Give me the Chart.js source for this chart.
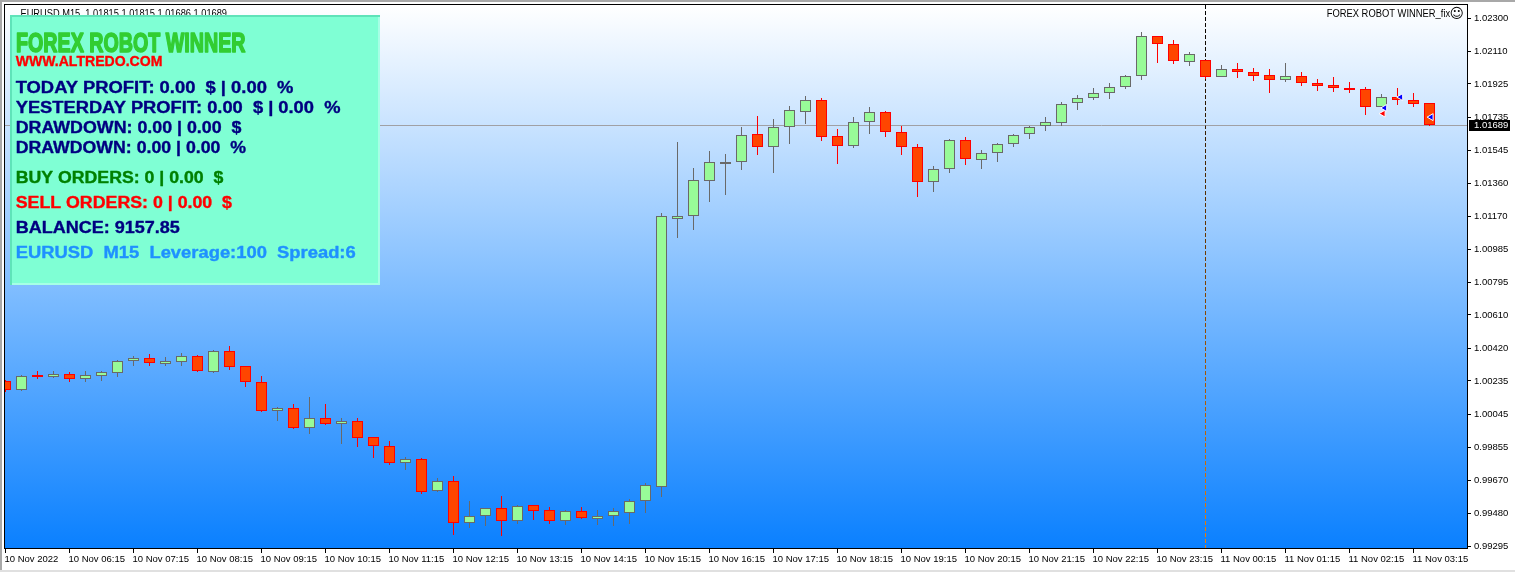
<!DOCTYPE html>
<html><head><meta charset="utf-8">
<script src="https://cdn.jsdelivr.net/npm/chart.js@4"></script>
<style>html,body{margin:0;padding:0;background:#fff;overflow:hidden}canvas{position:absolute;left:0;top:0;display:block}</style>
</head><body><canvas id="c" width="1515" height="572"></canvas>
<script>
const opens=[1.00233,1.00185,1.00269,1.00259,1.00274,1.00248,1.00265,1.00282,1.00350,1.00364,1.00333,1.00344,1.00375,1.00288,1.00404,1.00318,1.00227,1.00066,1.00079,0.99969,1.00022,0.99992,1.00005,0.99914,0.99863,0.99770,0.99789,0.99610,0.99664,0.99428,0.99468,0.99510,0.99440,0.99527,0.99499,0.99440,0.99493,0.99451,0.99468,0.99485,0.99553,0.99633,1.01158,1.01171,1.01370,1.01477,1.01479,1.01638,1.01564,1.01678,1.01766,1.01831,1.01627,1.01570,1.01707,1.01763,1.01650,1.01564,1.01365,1.01439,1.01604,1.01490,1.01530,1.01581,1.01638,1.01683,1.01701,1.01814,1.01843,1.01871,1.01905,1.01968,1.02196,1.02150,1.02048,1.02059,1.01963,1.02008,1.01991,1.01974,1.01949,1.01968,1.01928,1.01917,1.01900,1.01894,1.01795,1.01849,1.01831,1.01815];
const highs=[1.00240,1.00269,1.00291,1.00291,1.00286,1.00291,1.00291,1.00354,1.00377,1.00388,1.00369,1.00392,1.00383,1.00411,1.00434,1.00320,1.00263,1.00087,1.00104,1.00144,1.00104,1.00022,1.00022,0.99914,0.99891,0.99804,0.99796,0.99681,0.99694,0.99550,0.99510,0.99578,0.99527,0.99527,0.99516,0.99499,0.99516,0.99499,0.99514,0.99561,0.99652,1.01189,1.01595,1.01446,1.01543,1.01526,1.01680,1.01742,1.01725,1.01799,1.01856,1.01843,1.01667,1.01736,1.01791,1.01769,1.01683,1.01581,1.01458,1.01612,1.01620,1.01547,1.01587,1.01638,1.01683,1.01735,1.01820,1.01860,1.01900,1.01928,1.01974,1.02219,1.02196,1.02173,1.02105,1.02059,1.02031,1.02044,1.02014,1.02008,1.02044,1.01991,1.01951,1.01963,1.01936,1.01906,1.01866,1.01900,1.01871,1.01815];
const lows=[1.00174,1.00178,1.00248,1.00253,1.00231,1.00231,1.00235,1.00259,1.00320,1.00320,1.00320,1.00320,1.00288,1.00282,1.00299,1.00200,1.00060,1.00009,0.99963,0.99935,0.99986,0.99878,0.99861,0.99798,0.99758,0.99730,0.99593,0.99605,0.99360,0.99400,0.99411,0.99354,0.99422,0.99445,0.99422,0.99417,0.99448,0.99417,0.99411,0.99422,0.99485,0.99576,1.01049,1.01095,1.01254,1.01292,1.01435,1.01522,1.01420,1.01585,1.01698,1.01602,1.01471,1.01562,1.01642,1.01625,1.01522,1.01283,1.01311,1.01420,1.01465,1.01443,1.01482,1.01568,1.01613,1.01659,1.01683,1.01778,1.01835,1.01841,1.01894,1.01949,1.02046,1.02040,1.02029,1.01951,1.01963,1.01960,1.01943,1.01875,1.01938,1.01915,1.01886,1.01881,1.01875,1.01750,1.01795,1.01807,1.01795,1.01686];
const closes=[1.00185,1.00261,1.00259,1.00274,1.00248,1.00267,1.00284,1.00347,1.00364,1.00339,1.00347,1.00375,1.00293,1.00404,1.00316,1.00231,1.00066,1.00079,0.99969,1.00022,0.99992,1.00005,0.99912,0.99866,0.99770,0.99789,0.99605,0.99664,0.99428,0.99468,0.99510,0.99440,0.99522,0.99496,0.99440,0.99493,0.99457,0.99468,0.99493,0.99550,0.99641,1.01171,1.01171,1.01376,1.01479,1.01483,1.01633,1.01564,1.01678,1.01774,1.01831,1.01621,1.01570,1.01707,1.01763,1.01650,1.01564,1.01365,1.01439,1.01604,1.01496,1.01530,1.01581,1.01633,1.01678,1.01707,1.01809,1.01843,1.01871,1.01905,1.01968,1.02196,1.02150,1.02054,1.02093,1.01963,1.02008,1.01990,1.01972,1.01949,1.01968,1.01932,1.01915,1.01900,1.01892,1.01795,1.01849,1.01835,1.01812,1.01689];
const timeLabels=["10 Nov 2022","10 Nov 06:15","10 Nov 07:15","10 Nov 08:15","10 Nov 09:15","10 Nov 10:15","10 Nov 11:15","10 Nov 12:15","10 Nov 13:15","10 Nov 14:15","10 Nov 15:15","10 Nov 16:15","10 Nov 17:15","10 Nov 18:15","10 Nov 19:15","10 Nov 20:15","10 Nov 21:15","10 Nov 22:15","10 Nov 23:15","11 Nov 00:15","11 Nov 01:15","11 Nov 02:15","11 Nov 03:15"];
const priceLabels=["1.02300","1.02110","1.01925","1.01735","1.01545","1.01360","1.01170","1.00985","1.00795","1.00610","1.00420","1.00235","1.00045","0.99855","0.99670","0.99480","0.99295"];
const blueArrowBars=[86.2,87.2,89.1];
const blueArrowPrices=[1.01788,1.01850,1.01736];
const redArrowBars=[86.1];
const redArrowPrices=[1.01756];
const currentPrice=1.01689;
const crosshairBar=75;
const chartTitle="EURUSD,M15  1.01815 1.01815 1.01686 1.01689";
const indicatorName="FOREX ROBOT WINNER_fix";
const panelTexts=["WWW.ALTREDO.COM","TODAY PROFIT: 0.00  $ | 0.00  %","YESTERDAY PROFIT: 0.00  $ | 0.00  %","DRAWDOWN: 0.00 | 0.00  $","DRAWDOWN: 0.00 | 0.00  %","BUY ORDERS: 0 | 0.00  $","SELL ORDERS: 0 | 0.00  $","BALANCE: 9157.85","EURUSD  M15  Leverage:100  Spread:6"];
const panelTitle="FOREX ROBOT WINNER";

const UP_FILL='#98fb98',UP_LINE='#696969',DN_FILL='#ff4500',DN_LINE='#ff0000';
const isUp=i=>closes[i]>=opens[i];
const idx=opens.map((_,i)=>i);
const wickColors=idx.map(i=>isUp(i)?UP_LINE:DN_LINE);
const fillColors=idx.map(i=>isUp(i)?UP_FILL:DN_FILL);
const lineColors=idx.map(i=>isUp(i)?UP_LINE:DN_LINE);
const SANS='"Liberation Sans"';
const axisFont={family:SANS,size:9.5};
const noPad=s=>{s.paddingTop=s.paddingBottom=s.paddingLeft=s.paddingRight=0;};

function fitText(ctx,t,x,y,w,font,color,stroke){
  ctx.save();ctx.font=font;ctx.fillStyle=color;ctx.textAlign='left';ctx.textBaseline='alphabetic';
  const sx=w/ctx.measureText(t).width;
  ctx.translate(x,y);ctx.scale(sx,1);
  if(stroke){ctx.strokeStyle=color;ctx.lineWidth=stroke;ctx.lineJoin='round';ctx.strokeText(t,0,0);}
  ctx.fillText(t,0,0);ctx.restore();
}
const backdrop={id:'backdrop',beforeDatasetsDraw(ch){
  const {ctx,chartArea:a,scales:{x,y}}=ch;
  // snap candle edges to whole pixels, as the terminal draws them
  [0,1].forEach(d=>ch.getDatasetMeta(d).data.forEach(el=>{
    let t=Math.round(Math.min(el.y,el.base)),b=Math.round(Math.max(el.y,el.base));
    if(b-t<2)b=t+2;
    el.y=t;el.base=b;
  }));
  const g=ctx.createLinearGradient(0,a.top,0,a.bottom);
  g.addColorStop(0,'#ffffff');g.addColorStop(1,'#0a80ff');
  ctx.save();ctx.fillStyle=g;ctx.fillRect(a.left,a.top,a.right-a.left,a.bottom-a.top);
  const py=Math.round(y.getPixelForValue(currentPrice))+.5;
  ctx.strokeStyle='#a0a0a4';ctx.lineWidth=1;ctx.beginPath();ctx.moveTo(a.left,py);ctx.lineTo(a.right,py);ctx.stroke();
  const px=Math.floor(x.getPixelForValue(crosshairBar))+.5;
  ctx.globalCompositeOperation='difference';
  ctx.strokeStyle='#fff';ctx.setLineDash([4,2]);ctx.beginPath();ctx.moveTo(px,a.top);ctx.lineTo(px,a.bottom);ctx.stroke();
  ctx.restore();
  fitText(ctx,chartTitle,20.5,16.5,206.5,'10px '+SANS,'#000');
}};
const overlay={id:'overlay',afterDraw(ch){
  const {ctx,chartArea:a,scales:{y}}=ch;
  ctx.save();
  ctx.fillStyle='#a8a8a8';ctx.fillRect(0,0,1515,2);ctx.fillRect(0,0,2,572);ctx.fillStyle='#e0e0e0';ctx.fillRect(0,570,1515,2);
  ctx.strokeStyle='#000';ctx.lineWidth=1;ctx.strokeRect(a.left-.5,a.top-.5,a.right-a.left+1,a.bottom-a.top+1);
  const py=Math.round(y.getPixelForValue(currentPrice));
  ctx.fillStyle='#000';ctx.fillRect(1469,py-5,41,11);
  ctx.font='9.5px '+SANS;ctx.fillStyle='#fff';ctx.textBaseline='middle';ctx.textAlign='left';ctx.fillText(currentPrice.toFixed(5),1474,py+.5);
  ctx.fillStyle='#5fe3b9';ctx.fillRect(10,15,370,270);
  ctx.fillStyle='#a6ffe5';ctx.fillRect(12,17,368,268);
  ctx.fillStyle='#7fffd4';ctx.fillRect(12,17,366,266);
  fitText(ctx,panelTitle,16,52.3,229.5,'bold 27.5px "Liberation Sans Narrow",'+SANS,'#32cd32',1.6);
  const rows=[[66,146.7,14,'#ff0000'],[92.7,277.7,16,'#000080'],[113,324.7,16,'#000080'],[133,225.7,16,'#000080'],[153,230.3,16,'#000080'],[182.7,207.7,16,'#008000'],[207.7,216.3,16,'#ff0000'],[232.7,164,16,'#000080'],[257.7,340,16,'#1e90ff']];
  panelTexts.forEach((t,i)=>{const r=rows[i];fitText(ctx,t,15.7,r[0],r[1],'bold '+r[2]+'px '+SANS,r[3],.35);});
  fitText(ctx,indicatorName,1326.7,17,123.5,'10px '+SANS,'#000');
  ctx.font='14px "DejaVu Sans"';ctx.fillStyle='#000';ctx.textAlign='center';ctx.textBaseline='middle';ctx.fillText('\u263A',1456.7,14.5);
  ctx.restore();
}};
new Chart(document.getElementById('c'),{
  data:{datasets:[
    {type:'bar',label:'Wick',order:3,grouped:false,barThickness:1,borderWidth:0,inflateAmount:0,backgroundColor:wickColors,
     data:idx.map(i=>({x:i,y:[lows[i],highs[i]]}))},
    {type:'bar',label:'Body',order:2,grouped:false,barThickness:11,borderWidth:1,inflateAmount:0,borderSkipped:false,backgroundColor:fillColors,borderColor:lineColors,
     data:idx.map(i=>({x:i,y:[opens[i],closes[i]]}))},
    {type:'scatter',label:'Sell arrow',order:1,pointStyle:'triangle',rotation:-90,pointRadius:4,borderWidth:1,backgroundColor:'#ff0000',borderColor:'#ffffff',
     data:redArrowBars.map((b,i)=>({x:b,y:redArrowPrices[i]}))},
    {type:'scatter',label:'Buy arrow',order:0,pointStyle:'triangle',rotation:-90,pointRadius:4,borderWidth:1,backgroundColor:'#0000ff',borderColor:'#ffffff',
     data:blueArrowBars.map((b,i)=>({x:b,y:blueArrowPrices[i]}))}
  ]},
  options:{
    responsive:false,animation:false,devicePixelRatio:1,
    layout:{padding:{left:5,top:5,right:0,bottom:0}},
    plugins:{legend:{display:false},tooltip:{enabled:false},title:{display:false}},
    scales:{
      x:{type:'linear',offset:false,min:-0.03125,max:91.34375,
        afterBuildTicks(s){s.ticks=timeLabels.map((_,i)=>({value:i*4}));},
        afterFit(s){s.height=24;noPad(s);},
        grid:{display:true,offset:false,drawOnChartArea:false,drawTicks:true,tickLength:5,color:'#000'},border:{display:false},
        ticks:{autoSkip:false,maxRotation:0,minRotation:0,align:'start',padding:1,labelOffset:-1,color:'#000',font:axisFont,callback:(v,i)=>timeLabels[i]}},
      y:{type:'linear',position:'right',min:0.99284,max:1.02374,
        afterBuildTicks(s){s.ticks=priceLabels.map(p=>({value:parseFloat(p)}));},
        afterFit(s){s.width=48;noPad(s);},
        grid:{display:true,drawOnChartArea:false,drawTicks:true,tickLength:4,color:'#000'},border:{display:false},
        ticks:{autoSkip:false,padding:3,color:'#000',font:axisFont,callback:(v,i)=>priceLabels[i]}}
    }
  },
  plugins:[backdrop,overlay]
});
</script></body></html>
